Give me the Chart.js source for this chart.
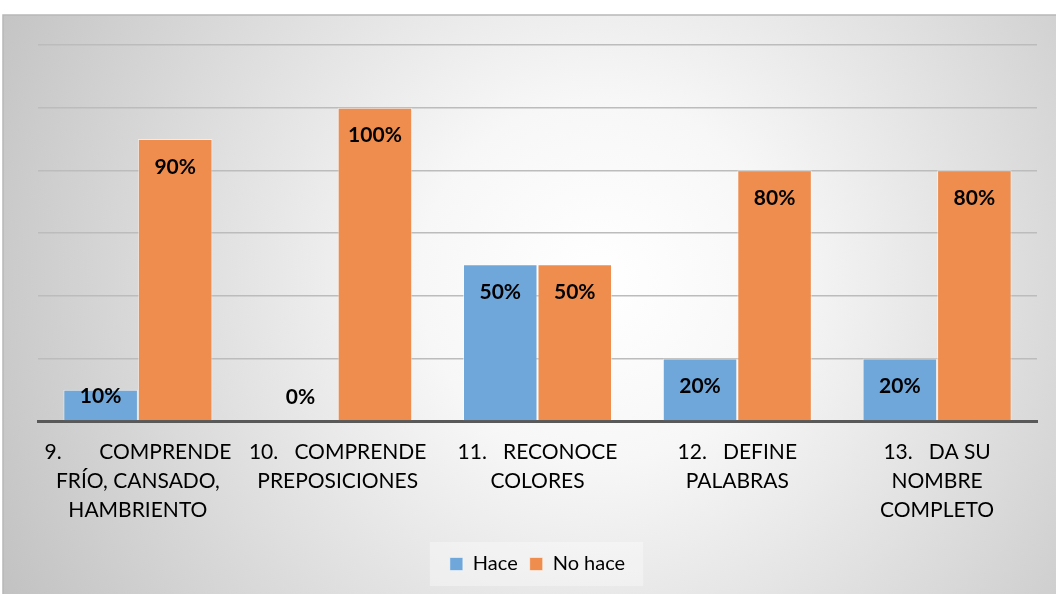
<!DOCTYPE html>
<html>
<head>
<meta charset="utf-8">
<script src="https://cdn.jsdelivr.net/npm/chart.js@4"></script>
<style>
  html, body { margin: 0; padding: 0; background: #fff; overflow: hidden; }
  canvas { display: block; }
</style>
</head>
<body>
<canvas id="chart" width="1056" height="594"></canvas>
<script>
const categorias = [
  ["9.       COMPRENDE", "FRÍO, CANSADO,", "HAMBRIENTO"],
  ["10.   COMPRENDE", "PREPOSICIONES"],
  ["11.   RECONOCE", "COLORES"],
  ["12.   DEFINE", "PALABRAS"],
  ["13.   DA SU", "NOMBRE", "COMPLETO"]
];
const hace = [10, 0, 50, 20, 20];
const noHace = [90, 100, 50, 80, 80];
const series = ["Hace", "No hace"];

const FONT = "Lato, 'Open Sans', sans-serif";

// fondo degradado + caja de la leyenda
const fondo = {
  id: 'fondo',
  beforeDraw(chart) {
    const c = chart.ctx;
    c.save();
    c.fillStyle = '#ffffff';
    c.fillRect(0, 0, chart.width, chart.height);
    const g = c.createRadialGradient(600, 280, 0, 600, 280, 720);
    g.addColorStop(0, '#ffffff');
    g.addColorStop(0.25, '#f7f7f7');
    g.addColorStop(1, '#bdbdbd');
    c.fillStyle = g;
    c.fillRect(3, 15, chart.width - 3, chart.height - 15);
    c.strokeStyle = '#b8b8b8';
    c.lineWidth = 1.5;
    c.beginPath();
    c.moveTo(3, chart.height); c.lineTo(3, 15); c.lineTo(chart.width, 15);
    c.stroke();
    const lg = chart.legend;
    if (lg && lg.legendHitBoxes && lg.legendHitBoxes.length) {
      const hb = lg.legendHitBoxes;
      const x0 = hb[0].left - 20, x1 = hb[hb.length - 1].left + hb[hb.length - 1].width + 18;
      const yc = hb[0].top + hb[0].height / 2;
      c.fillStyle = 'rgba(255,255,255,0.35)';
      c.fillRect(x0, yc - 22, x1 - x0, 44);
    }
    c.restore();
  }
};

// etiquetas de valor dentro de la barra
const etiquetas = {
  id: 'etiquetas',
  afterDatasetsDraw(chart) {
    const c = chart.ctx;
    c.save();
    c.font = "bold 21px " + FONT;
    c.fillStyle = '#000';
    c.textAlign = 'center';
    c.textBaseline = 'middle';
    chart.data.datasets.forEach((ds, i) => {
      chart.getDatasetMeta(i).data.forEach((bar, j) => {
        const y = Math.min(bar.y + 28, bar.base - 24);
        c.fillText(ds.data[j] + '%', bar.x, y);
      });
    });
    c.restore();
  }
};

new Chart(document.getElementById('chart'), {
  type: 'bar',
  data: {
    labels: categorias,
    datasets: [
      { label: series[0], data: hace, backgroundColor: '#6fa7da', borderColor: 'rgba(255,255,255,0.5)', borderWidth: 1 },
      { label: series[1], data: noHace, backgroundColor: '#ee8d4e', borderColor: 'rgba(255,255,255,0.5)', borderWidth: 1 }
    ]
  },
  options: {
    responsive: false,
    animation: false,
    devicePixelRatio: 1,
    layout: { padding: { left: 38, right: 19, top: 45, bottom: 10 } },
    datasets: { bar: { categoryPercentage: 0.746, barPercentage: 1 } },
    scales: {
      x: {
        grid: { display: false, drawTicks: false },
        border: { color: '#595959', width: 3 },
        ticks: { color: '#000', font: { family: FONT, size: 21, lineHeight: 1.38 }, padding: 17, maxRotation: 0, autoSkip: false }
      },
      y: {
        min: 0, max: 120,
        ticks: { stepSize: 20, display: false },
        border: { display: false },
        grid: { color: ctx => ctx.tick.value === 0 ? 'rgba(0,0,0,0)' : '#bcbcbc', lineWidth: 1.5, drawTicks: false },
        afterFit(scale) { scale.width = 0; }
      }
    },
    plugins: {
      legend: {
        position: 'bottom',
        labels: { color: '#000', font: { family: FONT, size: 20 }, boxWidth: 13, boxHeight: 13, padding: 12 }
      },
      tooltip: { enabled: false }
    }
  },
  plugins: [fondo, etiquetas]
});
</script>
</body>
</html>
